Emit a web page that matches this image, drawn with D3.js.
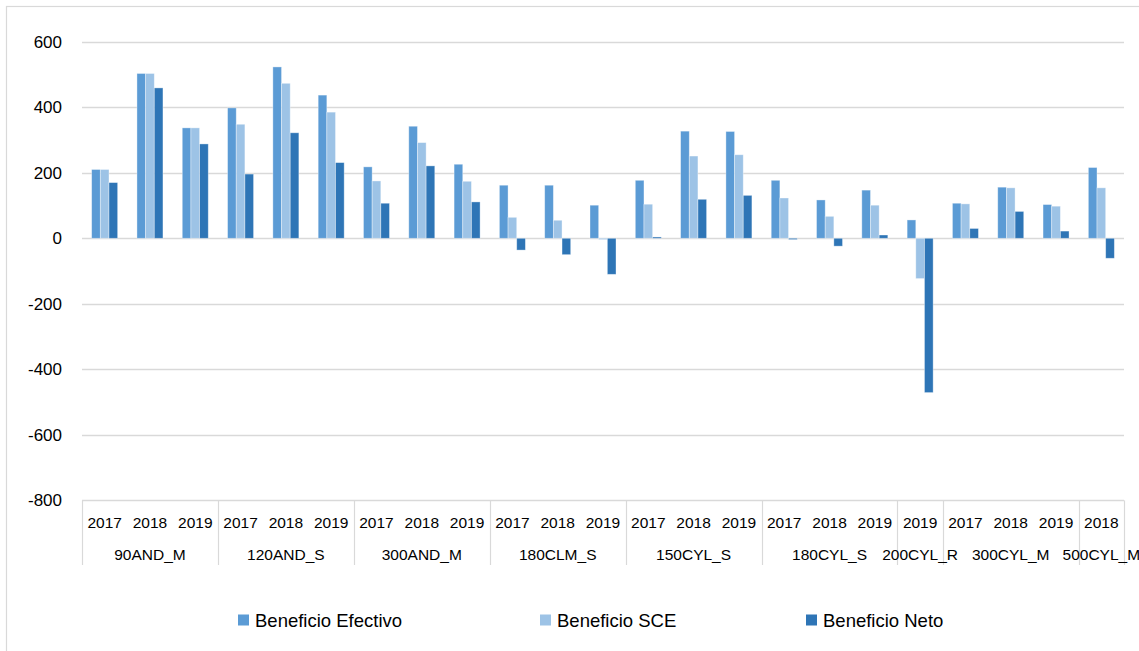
<!DOCTYPE html>
<html>
<head>
<meta charset="utf-8">
<script src="https://cdn.jsdelivr.net/npm/d3@7"></script>
<style>
  html, body { margin: 0; padding: 0; background: #fff; }
  svg { display: block; font-family: "Liberation Sans", Arial, sans-serif; }
</style>
</head>
<body>
<svg id="chart" width="1139" height="651"></svg>
<script>
// ---- Data ----
const groupLabels = ["90AND_M","120AND_S","300AND_M","180CLM_S","150CYL_S","180CYL_S","200CYL_R","300CYL_M","500CYL_M"];
const groupYears = [
  ["2017","2018","2019"],
  ["2017","2018","2019"],
  ["2017","2018","2019"],
  ["2017","2018","2019"],
  ["2017","2018","2019"],
  ["2017","2018","2019"],
  ["2019"],
  ["2017","2018","2019"],
  ["2018"]
];
const seriesNames = ["Beneficio Efectivo","Beneficio SCE","Beneficio Neto"];
const seriesColors = ["#5B9BD5","#9DC3E6","#2E75B6"];
const beneficioEfectivo = [210,503,337, 398,523,437, 218,342,226, 162,162,101, 177,327,326, 177,117,147, 56, 107,156,103, 216];
const beneficioSCE      = [210,503,337, 348,473,385, 175,292,174,  64, 55, -4, 104,251,255, 123, 67,101, -123, 105,154, 98, 154];
const beneficioNeto     = [170,459,288, 196,322,231, 107,221,111, -36,-50,-110, 4,119,131, -4,-24, 10, -471, 30, 82, 22, -61];
const yTicks = [-800,-600,-400,-200,0,200,400,600];

// ---- Build categories ----
const categories = [];
groupLabels.forEach((g, gi) => {
  groupYears[gi].forEach(y => categories.push({group: g, year: y, key: g + "|" + y}));
});
const series = [beneficioEfectivo, beneficioSCE, beneficioNeto];

// ---- Layout ----
const svg = d3.select("#chart");
const plot = {left: 82, right: 1124, top: 41.7, bottom: 500.4};

// outer frame (only top and left visible)
svg.append("rect")
  .attr("x", 6.5).attr("y", 6.5).attr("width", 1400).attr("height", 1000)
  .attr("fill", "none").attr("stroke", "#d9d9d9").attr("stroke-width", 1.2);

const x = d3.scaleBand()
  .domain(categories.map(c => c.key))
  .range([plot.left, plot.right])
  .padding(0);

const y = d3.scaleLinear().domain([-800, 600]).range([plot.bottom, plot.top]);

const xs = d3.scaleBand()
  .domain(seriesNames)
  .range([x.bandwidth() * 0.213, x.bandwidth() * 0.787])
  .padding(0);

// gridlines
svg.append("g").selectAll("line").data(yTicks).join("line")
  .attr("x1", plot.left).attr("x2", plot.right)
  .attr("y1", d => Math.round(y(d)) + 0.5).attr("y2", d => Math.round(y(d)) + 0.5)
  .attr("stroke", "#d9d9d9").attr("stroke-width", 1.3);

// y axis labels via d3 axis
const yAxis = d3.axisLeft(y).tickValues(yTicks).tickSize(0).tickPadding(0).tickFormat(d => String(d));
const yg = svg.append("g").attr("transform", "translate(62,0)").call(yAxis);
yg.select(".domain").remove();
yg.selectAll("text").attr("font-size", 17).attr("fill", "#000")
  .attr("font-family", "Liberation Sans, Arial, sans-serif");

// bars
const barG = svg.append("g");
seriesNames.forEach((s, si) => {
  barG.append("g").selectAll("rect").data(categories).join("rect")
    .attr("x", c => x(c.key) + xs(s))
    .attr("width", xs.bandwidth())
    .attr("y", (c, i) => y(Math.max(0, series[si][i])))
    .attr("height", (c, i) => Math.abs(y(series[si][i]) - y(0)))
    .attr("fill", seriesColors[si])
    .attr("stroke", "rgba(255,255,255,0.45)")
    .attr("stroke-width", 0.8);
});

// category axis (multi-level)
const axG = svg.append("g");
const axTop = plot.bottom, axBottom = 565;
// year labels
axG.selectAll("text.year").data(categories).join("text")
  .attr("class", "year")
  .attr("x", c => x(c.key) + x.bandwidth() / 2)
  .attr("y", 527.5)
  .attr("text-anchor", "middle")
  .attr("font-size", 15.5).attr("fill", "#000")
  .text(c => c.year);

// group boundaries and labels
let idx = 0;
const groupInfo = groupLabels.map((g, gi) => {
  const first = categories[idx].key;
  const last = categories[idx + groupYears[gi].length - 1].key;
  idx += groupYears[gi].length;
  return {label: g, x0: x(first), x1: x(last) + x.bandwidth()};
});
const bounds = [plot.left].concat(groupInfo.map(g => g.x1));
axG.selectAll("line.sep").data(bounds).join("line")
  .attr("class", "sep")
  .attr("x1", d => Math.round(d) + 0.5).attr("x2", d => Math.round(d) + 0.5)
  .attr("y1", axTop).attr("y2", axBottom)
  .attr("stroke", "#d9d9d9").attr("stroke-width", 1.2);
axG.selectAll("text.grp").data(groupInfo).join("text")
  .attr("class", "grp")
  .attr("x", g => (g.x0 + g.x1) / 2)
  .attr("y", 559.5)
  .attr("text-anchor", "middle")
  .attr("font-size", 15.5).attr("fill", "#000")
  .text(g => g.label);

// legend
const legendX = [238, 540, 806];
const lg = svg.append("g").selectAll("g").data(seriesNames).join("g")
  .attr("transform", (d, i) => `translate(${legendX[i]},0)`);
lg.append("rect").attr("x", 0).attr("y", 614.5).attr("width", 11).attr("height", 11)
  .attr("fill", (d, i) => seriesColors[i]);
lg.append("text").attr("x", 17).attr("y", 626.5)
  .attr("font-size", 18.5).attr("fill", "#000")
  .text(d => d);
</script>
</body>
</html>
